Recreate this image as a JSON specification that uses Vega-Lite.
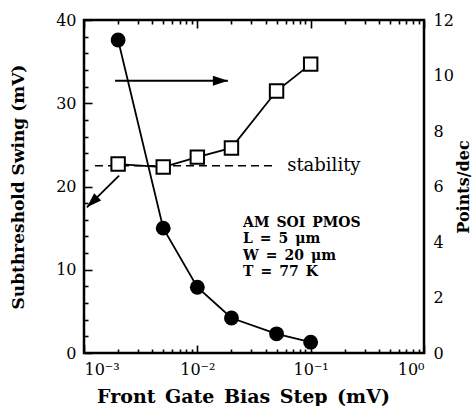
{
  "$schema": "https://vega.github.io/schema/vega-lite/v6.json",
  "width": 340,
  "height": 333,
  "autosize": "none",
  "padding": {"left": 84, "top": 20, "right": 50, "bottom": 53},
  "background": "white",
  "config": {
    "view": {"stroke": "black", "strokeWidth": 2.5},
    "axis": {
      "labelFont": "DejaVu Serif",
      "titleFont": "DejaVu Serif",
      "labelColor": "black",
      "titleColor": "black",
      "domain": false,
      "ticks": false,
      "tickSize": 0,
      "grid": true,
      "gridColor": "#000000",
      "gridOpacity": 1,
      "gridWidth": 1.6,
      "labelOverlap": false,
      "labelFontSize": 16,
      "zindex": 1
    }
  },
  "datasets": {
    "swing": [
      {"step": 0.002, "swing": 37.6},
      {"step": 0.005, "swing": 15.0},
      {"step": 0.01, "swing": 7.9},
      {"step": 0.02, "swing": 4.2},
      {"step": 0.05, "swing": 2.3},
      {"step": 0.1, "swing": 1.3}
    ],
    "points": [
      {"step": 0.002, "pts": 6.81},
      {"step": 0.005, "pts": 6.7},
      {"step": 0.01, "pts": 7.06},
      {"step": 0.02, "pts": 7.39},
      {"step": 0.05, "pts": 9.44},
      {"step": 0.1, "pts": 10.41}
    ],
    "stab": [
      {"step": 0.00125, "swing": 22.5},
      {"step": 0.046, "swing": 22.5}
    ],
    "arrows": [
      {"arrow": "right", "step": 0.00188, "swing": 32.7},
      {"arrow": "right", "step": 0.0186, "swing": 32.7},
      {"arrow": "left", "step": 0.00204, "swing": 21.3},
      {"arrow": "left", "step": 0.00106, "swing": 17.5}
    ],
    "heads": [
      {"step": 0.0186, "swing": 32.7, "angle": 0},
      {"step": 0.00106, "swing": 17.5, "angle": 136}
    ],
    "labels": [
      {"step": 0.062, "swing": 22.5, "label": "stability"}
    ],
    "note": [
      {"step": 0.0253, "swing": 15.1, "label": "AM\u2002SOI\u2002PMOS"},
      {"step": 0.0253, "swing": 13.2, "label": "L\u2002=\u20025\u2002μm"},
      {"step": 0.0253, "swing": 11.2, "label": "W\u2002=\u200220\u2002μm"},
      {"step": 0.0253, "swing": 9.3, "label": "T\u2002=\u200277\u2002K"}
    ]
  },
  "layer": [
    {
      "encoding": {
        "x": {
          "field": "step", "type": "quantitative",
          "scale": {"type": "log", "domain": [0.001, 1], "nice": false},
          "axis": {
            "orient": "bottom",
            "values": [0.001,0.002,0.003,0.004,0.005,0.006,0.007,0.008,0.009,0.01,0.02,0.03,0.04,0.05,0.06,0.07,0.08,0.09,0.1,0.2,0.3,0.4,0.5,0.6,0.7,0.8,0.9,1],
            "labelExpr": "datum.value == 0.001 ? '10⁻³' : datum.value == 0.01 ? '10⁻²' : datum.value == 0.1 ? '10⁻¹' : datum.value == 1 ? '10⁰' : ''",
            "gridDash": {"condition": {"test": "datum.value == 0.001 || datum.value == 0.01 || datum.value == 0.1 || datum.value == 1", "value": [8, 317, 8, 100]}, "value": [4, 325, 4, 100]},
            "labelPadding": 8,
            "title": "Front\u2002Gate\u2002Bias\u2002Step\u2002(mV)",
            "titleFontSize": 19,
            "titleFontWeight": "bold",
            "titleX": 159,
            "titleY": 43,
            "titleAlign": "center",
            "titleBaseline": "middle"
          }
        },
        "y": {
          "field": "swing", "type": "quantitative",
          "scale": {"domain": [0, 40], "nice": false},
          "axis": {
            "orient": "left",
            "values": [0,2,4,6,8,10,12,14,16,18,20,22,24,26,28,30,32,34,36,38,40],
            "labelExpr": "datum.value % 10 === 0 ? datum.label : ''",
            "gridDash": {"condition": {"test": "datum.value % 10 === 0", "value": [8, 400]}, "value": [4, 400]},
            "labelPadding": 8,
            "title": "Subthreshold Swing (mV)",
            "titleFontSize": 17,
            "titleFontWeight": "bold",
            "titleAngle": -90,
            "titleX": -66,
            "titleY": 166.5,
            "titleAlign": "center",
            "titleBaseline": "middle"
          }
        }
      },
      "layer": [
        {
          "data": {"name": "swing"},
          "mark": {"type": "line", "color": "black", "strokeWidth": 1.8}
        },
        {
          "data": {"name": "swing"},
          "mark": {"type": "point", "shape": "circle", "filled": true, "color": "black", "size": 220, "opacity": 1}
        },
        {
          "data": {"name": "stab"},
          "mark": {"type": "line", "color": "black", "strokeWidth": 1.5, "strokeDash": [8, 5]}
        },
        {
          "data": {"name": "labels"},
          "mark": {"type": "text", "font": "DejaVu Serif", "fontSize": 18, "align": "left", "baseline": "middle", "color": "black"},
          "encoding": {"text": {"field": "label"}}
        },
        {
          "data": {"name": "arrows"},
          "mark": {"type": "line", "color": "black", "strokeWidth": 1.8},
          "encoding": {"detail": {"field": "arrow"}}
        },
        {
          "data": {"name": "heads"},
          "mark": {"type": "point", "shape": "M0,0 L-2,-0.67 L-2,0.67 Z", "filled": true, "color": "black", "size": 225, "opacity": 1},
          "encoding": {"angle": {"field": "angle", "type": "quantitative", "scale": null}}
        },
        {
          "data": {"name": "note"},
          "mark": {"type": "text", "font": "DejaVu Serif", "fontWeight": "bold", "fontSize": 14, "align": "left", "baseline": "alphabetic", "color": "black"},
          "encoding": {"text": {"field": "label"}}
        }
      ]
    },
    {
      "data": {"name": "points"},
      "encoding": {
        "x": {
          "field": "step", "type": "quantitative",
          "scale": {"type": "log", "domain": [0.001, 1], "nice": false},
          "axis": null
        },
        "y": {
          "field": "pts", "type": "quantitative",
          "scale": {"domain": [0, 12], "nice": false},
          "axis": {
            "orient": "right",
            "values": [0,1,2,3,4,5,6,7,8,9,10,11,12],
            "labelExpr": "datum.value % 2 === 0 ? datum.label : ''",
            "gridDash": {"condition": {"test": "datum.value % 2 === 0", "value": [8, 400]}, "value": [4, 400]},
            "labelPadding": 9,
            "title": "Points/dec",
            "titleFontSize": 16,
            "titleFontWeight": "bold",
            "titleAngle": -90,
            "titleX": 39,
            "titleY": 166.5,
            "titleAlign": "center",
            "titleBaseline": "middle"
          }
        }
      },
      "layer": [
        {
          "mark": {"type": "line", "color": "black", "strokeWidth": 1.8}
        },
        {
          "mark": {"type": "point", "shape": "square", "filled": true, "fill": "white", "stroke": "black", "strokeWidth": 2, "size": 180, "opacity": 1}
        }
      ]
    }
  ],
  "resolve": {"scale": {"y": "independent"}, "axis": {"x": "independent", "y": "independent"}}
}
